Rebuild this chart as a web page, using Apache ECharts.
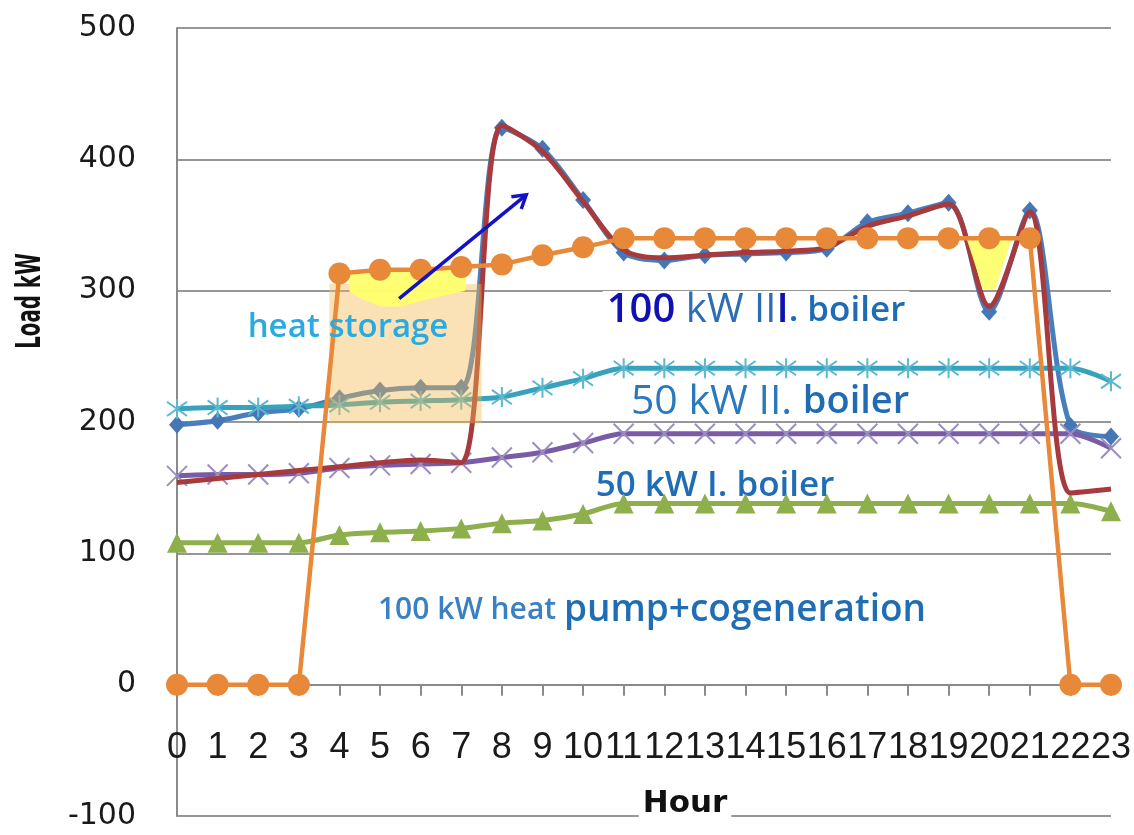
<!DOCTYPE html>
<html>
<head>
<meta charset="utf-8">
<script src="https://cdn.jsdelivr.net/npm/echarts@6/dist/echarts.min.js"></script>
<style>
  html, body { margin: 0; padding: 0; background: #ffffff; }
  #chart { width: 1134px; height: 835px; }
</style>
</head>
<body>
<div id="chart"></div>
<script>
// Hour-of-day tick labels
const hourLabels = ['0','1','2','3','4','5','6','7','8','9','10','11','12','13','14','15','16','17','18','19','20','21','22','23'];
const hours = [0,1,2,3,4,5,6,7,8,9,10,11,12,13,14,15,16,17,18,19,20,21,22,23];

// Load profiles, kW
const heatDemand      = [198,201,207,210,218,224,226,226,424,408,369,329,323,327,328,329,332,352,359,367,284,361,197,189];
const demandWithStore = [154,157,160,163,166,169,171,169,426,406,368,331,325,327,329,330,333,349,357,366,288,360,146,149];
const boilerIIUpper   = [210,211,211,212,213,215,216,217,219,226,233,241,241,241,241,241,241,241,241,241,241,241,241,231];
const boilerIILower   = [159,160,160,161,165,167,168,169,173,177,184,191,191,191,191,191,191,191,191,191,191,191,191,180];
const boilerI         = [108,108,108,108,114,116,117,119,123,125,130,138,138,138,138,138,138,138,138,138,138,138,138,132];
const heatPumpCogen   = [0,0,0,0,313,316,316,318,320,327,333,340,340,340,340,340,340,340,340,340,340,340,0,0];

// Storage regions (hour, kW)
const storageBox     = [[3.75,305],[7.5,305],[7.5,199],[3.75,199]];
const chargePatch    = [[4.2,314],[5,316],[6,316],[7.15,318],[7.1,300],[6.7,297],[6,292],[5.5,288],[5,288],[4.6,293],[4.25,299]];
const dischargePatch = [[19.45,339],[20.55,339],[20.15,301],[19.85,301]];
const arrowPath      = [[5.47,294],[8.6,373]];

// Value range of the load axis
const loadMin = -100, loadMax = 500, loadStep = 100;

const pairs = arr => hours.map((h, i) => [h, arr[i]]);

const xMark = 'path://M0,0L10,10M10,0L0,10';
const starMark = 'path://M0,0L10,10M10,0L0,10M5,-2L5,12';

function polygonSeries(points, fill, z) {
  return {
    type: 'custom', z: z, silent: true,
    data: [points[0]],
    renderItem: (params, api) => ({
      type: 'polygon',
      shape: { points: points.map(p => api.coord(p)) },
      style: { fill: fill }
    })
  };
}

const W = 1134, H = 835;
const grid = { left: 177, right: 23, top: 28, bottom: 19 };
const plotH = H - grid.top - grid.bottom;
// shift the hour axis up so that it sits on the zero line
const zeroOffset = -plotH * (0 - loadMin) / (loadMax - loadMin);

const chart = echarts.init(document.getElementById('chart'), null, { renderer: 'canvas', width: W, height: H });

chart.setOption({
  backgroundColor: '#ffffff',
  animation: false,
  grid: Object.assign({ containLabel: false, outerBoundsMode: 'none' }, grid),
  xAxis: {
    type: 'value', min: 0, max: 23, interval: 1,
    position: 'bottom', offset: zeroOffset,
    axisLine: { onZero: false, lineStyle: { color: '#8a8a8a', width: 2 } },
    axisTick: { show: true, length: 11, lineStyle: { color: '#8a8a8a', width: 2 } },
    splitLine: { show: false },
    axisLabel: {
      margin: 45, color: '#1a1a1a', fontSize: 36,
      fontFamily: '"Liberation Sans", Arial, sans-serif',
      formatter: v => hourLabels[v] !== undefined ? hourLabels[v] : ''
    }
  },
  yAxis: {
    type: 'value', min: loadMin, max: loadMax, interval: loadStep,
    axisLine: { show: true, onZero: false, lineStyle: { color: '#8a8a8a', width: 2 } },
    axisTick: { show: false },
    splitLine: { show: true, lineStyle: { color: '#979797', width: 2 } },
    axisLabel: { margin: 41, color: '#1a1a1a', fontSize: 30, fontFamily: '"DejaVu Sans", sans-serif' }
  },
  graphic: [
    { type: 'text', z: 1, x: 31, y: 301, rotation: Math.PI / 2, scaleX: 0.6,
      style: { text: 'Load kW', font: 'bold 33px "DejaVu Sans", sans-serif', fill: '#111', align: 'center', verticalAlign: 'middle' } },
    { type: 'text', z: 1, x: 685, y: 804,
      style: { text: 'Hour', font: 'bold 31px "DejaVu Sans", sans-serif', fill: '#111', align: 'center', verticalAlign: 'middle',
        backgroundColor: '#ffffff', padding: [0, 4, 0, 4] } },
    { type: 'text', z: 10, x: 348, y: 328,
      style: { text: 'heat storage', font: '600 33px "Open Sans", sans-serif', fill: '#2aaae0', align: 'center', verticalAlign: 'middle' } },
    { type: 'text', z: 1, x: 756, y: 311,
      style: {
        text: '{n|100 }{u|kW II}{n|I}{b|. boiler}',
        rich: {
          n: { font: '600 40px "Open Sans", sans-serif', fill: '#1010b4' },
          u: { font: '40px "Open Sans", sans-serif', fill: '#2e6db4' },
          b: { font: '600 35px "Open Sans", sans-serif', fill: '#1f6cb5' }
        },
        align: 'center', verticalAlign: 'middle', backgroundColor: '#ffffff', padding: [0, 4, 0, 4]
      } },
    { type: 'text', z: 1, x: 770, y: 402,
      style: {
        text: '{a|50 kW II. }{b|boiler}',
        rich: {
          a: { font: '41px "Open Sans", sans-serif', fill: '#2a78be' },
          b: { font: '600 38px "Open Sans", sans-serif', fill: '#1f6cb5' }
        },
        align: 'center', verticalAlign: 'middle'
      } },
    { type: 'text', z: 1, x: 715, y: 486,
      style: { text: '50 kW I. boiler', font: '600 35px "Open Sans", sans-serif', fill: '#1f6db5', align: 'center', verticalAlign: 'middle' } },
    { type: 'text', z: 1, x: 652, y: 610,
      style: {
        text: '{s|100 kW heat }{l|pump+cogeneration}',
        rich: {
          s: { font: '600 30px "Open Sans", sans-serif', fill: '#3a80c4' },
          l: { font: '600 37px "Open Sans", sans-serif', fill: '#1f6db5' }
        },
        align: 'center', verticalAlign: 'middle'
      } }
  ],
  series: [
    {
      name: 'heat demand', type: 'line', z: 2, smooth: 0.3,
      data: pairs(heatDemand),
      symbol: 'diamond', symbolSize: [16, 18],
      lineStyle: { color: '#4a7ebb', width: 5 },
      itemStyle: { color: '#4577b6' }
    },
    {
      name: 'demand with storage', type: 'line', z: 3, smooth: 0.3,
      data: pairs(demandWithStore),
      symbol: 'none',
      lineStyle: { color: '#a63a3d', width: 5 },
      itemStyle: { color: '#a63a3d' }
    },
    {
      name: 'boiler II lower', type: 'line', z: 2, smooth: 0.3,
      data: pairs(boilerIILower),
      symbol: xMark, symbolSize: 20,
      lineStyle: { color: '#7a5ba6', width: 5 },
      itemStyle: { color: '#9a8ec2', borderColor: '#9a8ec2', borderWidth: 2 }
    },
    {
      name: 'boiler II upper', type: 'line', z: 2, smooth: 0.3,
      data: pairs(boilerIIUpper),
      symbol: starMark, symbolSize: 20,
      lineStyle: { color: '#36a2bd', width: 5 },
      itemStyle: { color: '#5cb8cf', borderColor: '#5cb8cf', borderWidth: 2 }
    },
    {
      name: 'boiler I', type: 'line', z: 2, smooth: 0.3,
      data: pairs(boilerI),
      symbol: 'triangle', symbolSize: 20,
      lineStyle: { color: '#8db04c', width: 5 },
      itemStyle: { color: '#8db04c' }
    },
    polygonSeries(storageBox, 'rgba(245,185,80,0.42)', 4),
    polygonSeries(chargePatch, 'rgba(255,255,110,0.95)', 4),
    polygonSeries(dischargePatch, 'rgba(255,255,110,0.95)', 4),
    {
      name: 'heat pump + cogeneration', type: 'line', z: 5,
      data: pairs(heatPumpCogen),
      symbol: 'circle', symbolSize: 22,
      lineStyle: { color: '#e8893a', width: 4.5 },
      itemStyle: { color: '#e8893a' }
    },
    {
      type: 'custom', z: 6, silent: true,
      data: [arrowPath[1]],
      renderItem: (params, api) => {
        const a = api.coord(arrowPath[0]);
        const b = api.coord(arrowPath[1]);
        const ang = Math.atan2(b[1] - a[1], b[0] - a[0]);
        const len = 15, spread = 0.55;
        const h1 = [b[0] - len * Math.cos(ang - spread), b[1] - len * Math.sin(ang - spread)];
        const h2 = [b[0] - len * Math.cos(ang + spread), b[1] - len * Math.sin(ang + spread)];
        return {
          type: 'group',
          children: [
            { type: 'line', shape: { x1: a[0], y1: a[1], x2: b[0], y2: b[1] }, style: { stroke: '#1212c8', lineWidth: 3.5 } },
            { type: 'polyline', shape: { points: [h1, b, h2] }, style: { stroke: '#1212c8', lineWidth: 3.5, fill: null } }
          ]
        };
      }
    }
  ]
});
</script>
</body>
</html>
